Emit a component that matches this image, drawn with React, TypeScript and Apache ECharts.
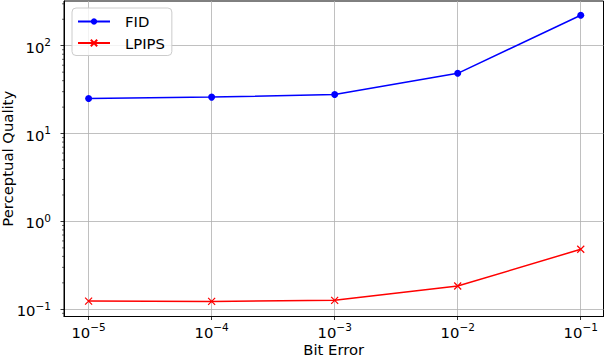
import React, { useEffect, useRef } from "react";
import * as echarts from "echarts";

const bitErrors = [1e-5, 1e-4, 1e-3, 1e-2, 1e-1];
const fid = [25.1, 26.0, 27.9, 48.5, 222];
const lpips = [0.124, 0.123, 0.1265, 0.184, 0.482];
const xTicks = [1e-5, 1e-4, 1e-3, 1e-2, 1e-1];
const yTicks = [0.1, 1, 10, 100];
const yMinorTicks = [
  0.09, 0.2, 0.3, 0.4, 0.5, 0.6, 0.7, 0.8, 0.9,
  2, 3, 4, 5, 6, 7, 8, 9,
  20, 30, 40, 50, 60, 70, 80, 90,
  200, 300,
];

const FONT = "DejaVu Sans";
const FS = 14.8;
const X_MIN = Math.pow(10, -5.2);
const X_MAX = Math.pow(10, -0.815);
const Y_MIN = Math.pow(10, -1.082);
const Y_MAX = Math.pow(10, 2.509);

const pow10Label = (v: number) => {
  const e = Math.round(Math.log10(v));
  return `{b|10}{s|${e < 0 ? "\u2212" : ""}${Math.abs(e)}}`;
};

const richLabel = {
  b: { fontSize: FS, fontFamily: FONT, color: "#000", lineHeight: 18, verticalAlign: "bottom" },
  s: { fontSize: 10.5, fontFamily: FONT, color: "#000", lineHeight: 12, verticalAlign: "top" },
};

const xMark = "path://M0,0L10,10M10,0L0,10";

export default function App() {
  const ref = useRef<HTMLDivElement>(null);
  useEffect(() => {
    document.body.style.margin = "0";
    const chart = echarts.init(ref.current!, null, { renderer: "svg" });
    chart.setOption({
      animation: false,
      textStyle: { fontFamily: FONT },
      grid: {
        left: 64,
        right: 2.5,
        top: 1,
        bottom: 39.5,
        containLabel: false,
        outerBoundsMode: "none",
        show: true,
        borderColor: "#000",
        borderWidth: 1,
        backgroundColor: "transparent",
      },
      legend: {
        data: ["FID", "LPIPS"],
        left: 72,
        top: 8,
        orient: "vertical",
        itemWidth: 32,
        itemHeight: 8,
        itemGap: 4.5,
        padding: [5, 7, 4, 5],
        backgroundColor: "rgba(255,255,255,0.8)",
        borderColor: "#cccccc",
        borderWidth: 1,
        borderRadius: 4,
        textStyle: { fontFamily: FONT, fontSize: FS, color: "#000", lineHeight: 17, padding: [0, 0, 0, 10] },
      },
      xAxis: {
        type: "log",
        logBase: 10,
        min: X_MIN,
        max: X_MAX,
        name: "Bit Error",
        nameLocation: "middle",
        nameGap: 25,
        nameMoveOverlap: false,
        nameTextStyle: { fontFamily: FONT, fontSize: FS, color: "#000" },
        axisLine: { show: true, lineStyle: { color: "#000", width: 1 } },
        axisTick: { show: true, length: 3.5, lineStyle: { color: "#000", width: 0.8 }, customValues: xTicks },
        axisLabel: { margin: 5, formatter: pow10Label, rich: richLabel, customValues: xTicks },
        splitLine: { show: true, lineStyle: { color: "#b0b0b0", width: 0.8 } },
        minorTick: { show: false },
      },
      yAxis: {
        type: "log",
        logBase: 10,
        min: Y_MIN,
        max: Y_MAX,
        name: "Perceptual Quality",
        nameLocation: "middle",
        nameGap: 49,
        nameMoveOverlap: false,
        nameTextStyle: { fontFamily: FONT, fontSize: FS, color: "#000" },
        axisLine: { show: true, lineStyle: { color: "#000", width: 1 } },
        axisTick: { show: true, length: 3.5, lineStyle: { color: "#000", width: 0.8 }, customValues: yTicks },
        axisLabel: { margin: 13, formatter: pow10Label, rich: richLabel, customValues: yTicks },
        splitLine: { show: true, lineStyle: { color: "#b0b0b0", width: 0.8 } },
        minorTick: { show: false },
      },
      series: [
        {
          name: "FID",
          type: "line",
          data: bitErrors.map((x, i) => [x, fid[i]]),
          symbol: "circle",
          symbolSize: 7,
          lineStyle: { color: "#0000ff", width: 1.5 },
          itemStyle: { color: "#0000ff", borderColor: "#0000ff", borderWidth: 0 },
          z: 3,
        },
        {
          name: "LPIPS",
          type: "line",
          data: bitErrors.map((x, i) => [x, lpips[i]]),
          symbol: xMark,
          symbolSize: 7,
          lineStyle: { color: "#ff0000", width: 1.5 },
          itemStyle: { color: "#ff0000", borderColor: "#ff0000", borderWidth: 1.2 },
          z: 3,
        },
        {
          name: "minor",
          type: "custom",
          silent: true,
          clip: false,
          data: yMinorTicks.map((v) => [1e-3, v]),
          renderItem: (params: any, api: any) => {
            const cs = params.coordSys;
            const p = api.coord([api.value(0), api.value(1)]);
            return {
              type: "line",
              shape: { x1: cs.x - 2, y1: p[1], x2: cs.x, y2: p[1] },
              style: { stroke: "#000", lineWidth: 0.6 },
            };
          },
        },
      ],
    });
    return () => chart.dispose();
  }, []);
  return <div ref={ref} style={{ width: 606, height: 356 }} />;
}
